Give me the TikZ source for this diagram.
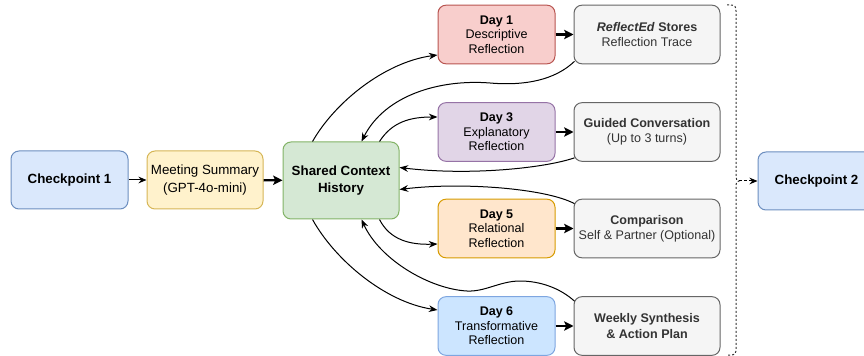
\documentclass[tikz,border=0pt]{standalone}
\usepackage{fontspec}
\setmainfont{Liberation Sans}
\usetikzlibrary{arrows.meta,calc}
\definecolor{bluef}{HTML}{DAE8FC}\definecolor{blued}{HTML}{6C8EBF}
\definecolor{yelf}{HTML}{FFF2CC}\definecolor{yeld}{HTML}{D6B656}
\definecolor{grnf}{HTML}{D5E8D4}\definecolor{grnd}{HTML}{82B366}
\definecolor{redf}{HTML}{F8CECC}\definecolor{redd}{HTML}{B85450}
\definecolor{purf}{HTML}{E1D5E7}\definecolor{purd}{HTML}{9673A6}
\definecolor{orf}{HTML}{FFE6CC}\definecolor{ord}{HTML}{D79B00}
\definecolor{sbf}{HTML}{CCE5FF}\definecolor{sbd}{HTML}{7EA6E0}
\definecolor{gryf}{HTML}{F5F5F5}\definecolor{gryd}{HTML}{666666}
\definecolor{grytxt}{HTML}{333333}
\tikzset{
  boxbase/.style={draw, rounded corners=6pt, line width=0.75pt, align=center, inner sep=0pt},
  cpbox/.style={boxbase, fill=bluef, draw=blued, minimum width=87.75pt, minimum height=43.5pt, font=\fontsize{10}{13}\selectfont\bfseries},
  meetbox/.style={boxbase, fill=yelf, draw=yeld, minimum width=87pt, minimum height=43.5pt, font=\fontsize{10}{13.5}\selectfont},
  sharedbox/.style={boxbase, fill=grnf, draw=grnd, minimum width=87pt, minimum height=57.75pt, font=\fontsize{10}{13}\selectfont\bfseries},
  daybox/.style={boxbase, minimum width=87.75pt, minimum height=44pt, font=\fontsize{9.4}{10.9}\selectfont},
  outbox/.style={boxbase, fill=gryf, draw=gryd, text=grytxt, minimum width=109.5pt, minimum height=44pt, font=\fontsize{9.4}{11.4}\selectfont},
  thinarr/.style={line width=0.75pt, -{Stealth[length=6pt,width=5pt]}},
  thickarr/.style={line width=1.8pt, -{Stealth[length=7pt,width=7pt,inset=1.5pt]}},
  curvarr/.style={line width=0.75pt, -{Stealth[length=6.5pt,width=5pt]}},
}
\begin{document}
\begin{tikzpicture}[x=0.75pt,y=-0.75pt]
\useasboundingbox (0,0) rectangle (864,356);

\node[cpbox] (cp1) at (69.5,180) {Checkpoint 1};
\node[meetbox] (meet) at (205,180) {Meeting Summary\\(GPT-4o-mini)};
\node[sharedbox] (shared) at (341,180.5) {Shared Context\\History};

\node[daybox, fill=redf, draw=redd] (d1) at (496.5,34.5) {\textbf{Day 1}\\Descriptive\\Reflection};
\node[daybox, fill=purf, draw=purd] (d3) at (496.5,132) {\textbf{Day 3}\\Explanatory\\Reflection};
\node[daybox, fill=orf, draw=ord] (d5) at (496.5,228.5) {\textbf{Day 5}\\Relational\\Reflection};
\node[daybox, fill=sbf, draw=sbd] (d6) at (496.5,326) {\textbf{Day 6}\\Transformative\\Reflection};

\node[outbox] (r1) at (647,34.5) {\textbf{\textit{ReflectEd} Stores}\\Reflection Trace};
\node[outbox] (r3) at (647,132) {\textbf{Guided Conversation}\\(Up to 3 turns)};
\node[outbox] (r5) at (647,228.5) {\textbf{Comparison}\\Self \& Partner (Optional)};
\node[outbox] (r6) at (647,326) {\textbf{Weekly Synthesis}\\\textbf{\& Action Plan}};

\node[cpbox] (cp2) at (816.5,181) {Checkpoint 2};

% straight arrows
\draw[thinarr] (cp1) -- (meet);
\draw[thickarr] (meet) -- (shared);
\draw[thickarr] (d1) -- (r1);
\draw[thickarr] (d3) -- (r3);
\draw[thickarr] (d5) -- (r5);
\draw[thickarr] (d6) -- (r6);

% shared -> days
\draw[curvarr] ($(shared.north west)+(30,0)$) .. controls (335,102) and (385,62) .. (d1.west |- 0,55);
\draw[curvarr] ($(shared.north west)+(97,0)$) .. controls (392,122) and (410,117) .. (d3.west |- 0,117);
\draw[curvarr] ($(shared.south west)+(97,0)$) .. controls (390,240) and (410,245) .. (d5.west |- 0,244);
\draw[curvarr] ($(shared.south west)+(30,0)$) .. controls (335,260) and (385,302) .. (d6.west |- 0,310);

% outputs -> shared
\draw[curvarr] ($(r1.south west)+(1,-3)$) .. controls (555,80) and (525,86) .. (490,83)
   .. controls (440,79) and (385,95) .. ($(shared.north west)+(79,0)$);
\draw[curvarr] ($(r3.south west)+(1,-4)$) .. controls (545,168) and (470,176) .. ($(shared.north east)+(0,26)$);
\draw[curvarr] ($(r5.north west)+(1,5)$) .. controls (545,188) and (460,182) .. ($(shared.north east)+(0,48)$);
\draw[curvarr] ($(r6.north west)+(1,5)$) .. controls (560,288) and (540,281) .. (520,281)
   .. controls (500,281) and (485,292) .. (467,291)
   .. controls (430,289) and (380,260) .. ($(shared.south west)+(79,0)$);

% brace
\coordinate (bt) at (739,181);
\draw[line width=0.75pt, draw=grytxt, dash pattern=on 1.5pt off 1.5pt]
  (727,5) -- (731,5) .. controls (735,5) and (736,7) .. (736,11) -- (736,177)
  .. controls (736,179.5) and (737,181) .. (bt) .. controls (737,181) and (736,182.5) .. (736,185)
  -- (736,349) .. controls (736,353) and (735,355) .. (731,355) -- (727,355);
\draw[line width=0.75pt, dash pattern=on 2.2pt off 1.5pt, -{Stealth[length=6pt,width=5pt]}] (bt) -- (cp2.west);
\end{tikzpicture}
\end{document}
